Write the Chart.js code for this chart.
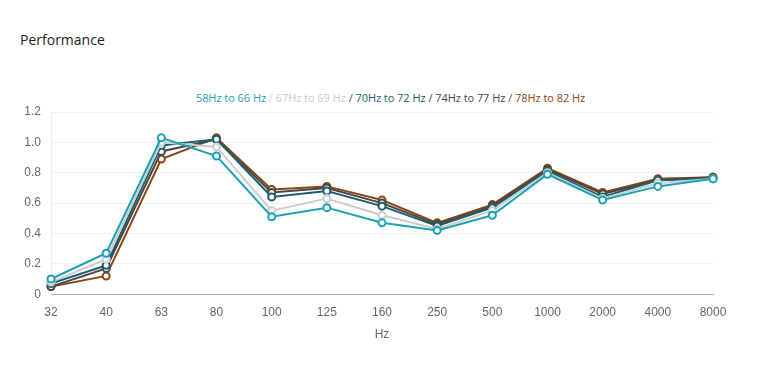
<!DOCTYPE html>
<html>
<head>
<meta charset="utf-8">
<script src="https://cdn.jsdelivr.net/npm/chart.js@4/dist/chart.umd.min.js"></script>
<style>
  body{margin:0;background:#fff;width:779px;height:378px;overflow:hidden;position:relative;font-family:"Open Sans",sans-serif;}
  #title{position:absolute;left:20px;top:30px;font-size:14px;color:#222;}
  #legend{position:absolute;left:0;width:779px;top:90px;text-align:center;font-size:11px;padding-left:2px;box-sizing:border-box;white-space:nowrap;letter-spacing:-0.05px;}
  #wrap{position:absolute;left:0;top:0;width:779px;height:378px;}
</style>
</head>
<body>
<div id="title">Performance</div>
<div id="legend"></div>
<div id="wrap"><canvas id="chart"></canvas></div>
<script>
const freqs = ['32','40','63','80','100','125','160','250','500','1000','2000','4000','8000'];
const seriesNames = ['58Hz to 66 Hz','67Hz to 69 Hz','70Hz to 72 Hz','74Hz to 77 Hz','78Hz to 82 Hz'];
const seriesColors = ['#1ba0b4','#cccccc','#1c5e6a','#474747','#8b4513'];
const s58_66 = [0.10,0.27,1.03,0.91,0.51,0.57,0.47,0.42,0.52,0.79,0.62,0.71,0.76];
const s67_69 = [0.08,0.23,1.00,0.97,0.55,0.63,0.52,0.43,0.55,0.80,0.63,0.73,0.76];
const s70_72 = [0.07,0.19,0.98,1.02,0.64,0.68,0.58,0.45,0.57,0.81,0.64,0.75,0.76];
const s74_77 = [0.05,0.17,0.94,1.02,0.67,0.70,0.60,0.46,0.58,0.82,0.66,0.75,0.77];
const s78_82 = [0.05,0.12,0.89,1.03,0.69,0.71,0.62,0.47,0.59,0.83,0.67,0.76,0.77];
const allSeries = [s58_66,s67_69,s70_72,s74_77,s78_82];

document.getElementById('legend').innerHTML = seriesNames.map((n,i)=>
  `<span style="color:${seriesColors[i]}">${i?'/ ':''}${n}</span>`).join(' ');

const datasets = allSeries.map((d,i)=>({
  label:seriesNames[i], data:d, borderColor:seriesColors[i], backgroundColor:'#fff',
  borderWidth:2, pointRadius:3.5, pointBorderWidth:2, pointBackgroundColor:'#fff',
  pointBorderColor:seriesColors[i], tension:0
}));

new Chart(document.getElementById('chart'),{
  type:'line',
  data:{labels:freqs,datasets},
  options:{
    responsive:true, maintainAspectRatio:false, animation:false,
    layout:{padding:{left:0,right:66,top:112,bottom:35}},
    plugins:{legend:{display:false},tooltip:{enabled:false}},
    scales:{
      x:{offset:false,
        grid:{display:false,drawTicks:false},
        border:{color:'#b0b0b0'},
        ticks:{color:'#666',padding:11,font:{family:'"Liberation Sans", Arial',size:12}},
        title:{display:true,text:'Hz',color:'#666',padding:{top:-3,bottom:1},font:{family:'"Liberation Sans", Arial',size:12}}},
      y:{min:0,max:1.2,
        afterFit:s=>{s.width=51;},
        grid:{color:'#f0f0f0',drawTicks:false},
        border:{color:'#ececec'},
        ticks:{stepSize:0.2,color:'#666',padding:10,font:{family:'"Liberation Sans", Arial',size:12},
          callback:v=>v===0?'0':v.toFixed(1)}}
    }
  }
});
</script>
</body>
</html>
